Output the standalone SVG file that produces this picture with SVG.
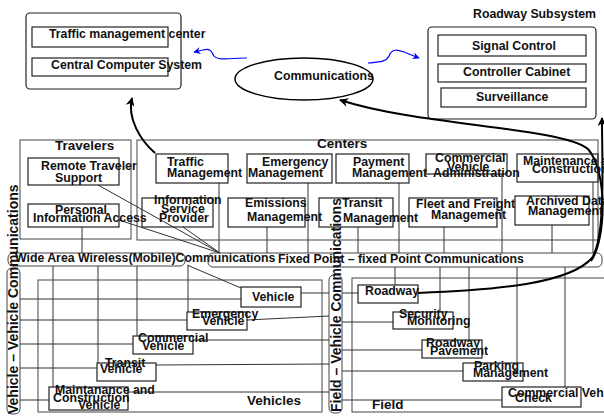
<svg xmlns="http://www.w3.org/2000/svg" width="604" height="417" viewBox="0 0 604 417">
<defs>
<style>
.t{font-family:"Liberation Sans",Arial,Helvetica,sans-serif;font-weight:bold;font-size:12.3px;fill:#111}
.h{font-size:13.5px}
.v{font-size:14px}
.bx{fill:none;stroke:#222;stroke-width:1.2}
.cb{fill:none;stroke:#444;stroke-width:1}
.ln{fill:none;stroke:#333;stroke-width:1}
.big{fill:none;stroke:#000;stroke-width:2}
.blue{fill:none;stroke:#0000ff;stroke-width:1.2}
</style>
<marker id="ab" viewBox="0 0 10 10" refX="9" refY="5" markerWidth="11" markerHeight="9" markerUnits="userSpaceOnUse" orient="auto"><path d="M0,0 L10,5 L0,10 L3,5 Z" fill="#000"/></marker>
<marker id="abl" viewBox="0 0 10 10" refX="9" refY="5" markerWidth="9" markerHeight="7" markerUnits="userSpaceOnUse" orient="auto"><path d="M0,0 L10,5 L0,10 L3,5 Z" fill="#0000ff"/></marker>
</defs>
<rect width="604" height="417" fill="#fff"/>

<!-- containers -->
<g id="tmc">
<rect class="bx" x="26" y="13" width="155" height="76" rx="4" stroke-width="1.5"/>
<rect class="bx" x="32" y="27" width="136" height="20"/>
<text class="t" x="49" y="38">Traffic management center</text>
<rect class="bx" x="32" y="58" width="136" height="18"/>
<text class="t" x="51" y="69">Central Computer System</text>
</g>
<g id="comm">
<ellipse cx="304" cy="79" rx="69" ry="21" fill="none" stroke="#000" stroke-width="1.5"/>
<text class="t" x="274" y="80">Communications</text>
</g>
<g id="roadway-subsystem">
<text class="t" x="473" y="18">Roadway Subsystem</text>
<rect class="bx" x="428" y="27" width="168" height="92" rx="4" stroke-width="1.5"/>
<rect class="bx" x="438" y="35" width="148" height="21"/>
<text class="t" x="472" y="50">Signal Control</text>
<rect class="bx" x="438" y="64" width="148" height="18"/>
<text class="t" x="463" y="76">Controller Cabinet</text>
<rect class="bx" x="441" y="88" width="145" height="19"/>
<text class="t" x="476" y="101">Surveillance</text>
</g>

<g id="travelers">
<rect class="cb" x="20" y="140" width="111" height="99"/>
<text class="t h" x="55" y="150">Travelers</text>
</g>
<g id="centers">
<rect class="cb" x="137" y="140" width="461" height="100"/>
<text class="t h" x="317" y="148">Centers</text>
</g>
<g id="vehicles">
<rect class="cb" x="38" y="280" width="284" height="132"/>
<text class="t h" x="247" y="405">Vehicles</text>
</g>
<g id="field">
<rect class="cb" x="352" y="278" width="256" height="134"/>
<text class="t h" x="372" y="409">Field</text>
</g>
<g id="wide-area">
<rect class="cb" x="8" y="253" width="177" height="13" rx="5"/>
<text class="t" x="15" y="262">Wide Area Wireless(Mobile)Communications</text>
</g>
<g id="fixed-point">
<rect class="cb" x="208" y="253" width="394" height="14" rx="5"/>
<text class="t" x="278" y="263">Fixed Point – fixed Point Communications</text>
</g>
<g id="v2v">
<rect class="cb" x="7" y="268" width="13" height="146" rx="5"/>
<text class="t v" transform="translate(18,414) rotate(-90)">Vehicle – Vehicle Communications</text>
</g>
<g id="f2v">
<rect class="cb" x="329" y="275" width="13" height="138" rx="5"/>
<text class="t v" transform="translate(341,412) rotate(-90)">Field – Vehicle Communications</text>
</g>

<!-- connectors -->
<g id="connectors">
<path class="ln" d="M82,227V253 M98,185L220,253 M119,220L220,253 M183,227L220,253"/>
<path class="ln" d="M219,183V253 M267,227V253 M308,183V253 M358,227V253 M399,183V253 M444,227V253 M502,174V253 M552,225V253 M593,182V253"/>
<path class="ln" d="M53,266V387 M98,266V363 M137,266V336 M188,266V312 M187,265L241,288"/>
<path class="ln" d="M20,299H241 M20,320H187 M20,344H133 M20,368H97 M20,400H49"/>
<path class="ln" d="M301,293H329 M247,320L329,316 M193,340H329 M156,365L329,364 M128,392H329"/>
<path class="ln" d="M342,293H358 M342,322H393 M342,350H422 M342,371H463 M342,400H502"/>
<path class="ln" d="M395,267V285 M440,267V312 M469,267V340 M517,267V363 M565,267V387"/>
<path class="big" d="M155,153 C140,140 127,118 132,98" marker-end="url(#ab)"/>
<path class="big" d="M591,261 C606,240 608,172 588,149 C560,127 420,126 340,100" marker-end="url(#ab)"/>
<path class="big" d="M418,293 C500,290 570,283 592,258 C606,236 602,165 602,118" marker-end="url(#ab)"/>
<path class="blue" d="M247,58 C232,58 218,61 214,56 C211,51 211,48 203,50 L194,52" marker-end="url(#abl)"/>
<path class="blue" d="M368,63 C380,62 386,62 389,56 C392,48 398,50 404,52 L419,58" marker-end="url(#abl)"/>
</g>

<!-- traveler nodes -->
<g id="remote-traveler">
<rect class="bx" x="28" y="158" width="91" height="27"/>
<text class="t" x="41" y="170">Remote Traveler</text>
<text class="t" x="55" y="182">Support</text>
</g>
<g id="personal-info">
<rect class="bx" x="28" y="204" width="91" height="23"/>
<text class="t" x="55" y="214">Personal</text>
<text class="t" x="33" y="222">Information Access</text>
</g>

<!-- center nodes -->
<g id="traffic-mgmt">
<rect class="bx" x="156" y="154" width="72" height="29"/>
<text class="t" x="167" y="166">Traffic</text>
<text class="t" x="167" y="177">Management</text>
</g>
<g id="emergency-mgmt">
<rect class="bx" x="247" y="154" width="85" height="29"/>
<text class="t" x="262" y="166">Emergency</text>
<text class="t" x="248" y="177">Management</text>
</g>
<g id="payment-mgmt">
<rect class="bx" x="336" y="154" width="73" height="29"/>
<text class="t" x="353" y="166">Payment</text>
<text class="t" x="352" y="177">Management</text>
</g>
<g id="cva">
<rect class="bx" x="426" y="154" width="81" height="20"/>
<text class="t" x="435" y="162">Commercial</text>
<text class="t" x="447" y="171">Vehicle</text>
<text class="t" x="433" y="177">Administration</text>
</g>
<g id="maint-const">
<rect class="bx" x="517" y="154" width="81" height="28"/>
<text class="t" x="523" y="165">Maintenance and</text>
<text class="t" x="532" y="173">Construction</text>
</g>
<g id="isp">
<rect class="bx" x="142" y="198" width="71" height="29"/>
<text class="t" x="154" y="204">Information</text>
<text class="t" x="161" y="213">Service</text>
<text class="t" x="159" y="222">Provider</text>
</g>
<g id="emissions">
<rect class="bx" x="228" y="198" width="77" height="29"/>
<text class="t" x="245" y="207">Emissions</text>
<text class="t" x="247" y="221">Management</text>
</g>
<g id="transit-mgmt">
<rect class="bx" x="319" y="198" width="74" height="29"/>
<text class="t" x="342" y="207">Transit</text>
<text class="t" x="343" y="222">Management</text>
</g>
<g id="fleet">
<rect class="bx" x="409" y="198" width="88" height="29"/>
<text class="t" x="416" y="208">Fleet and Freight</text>
<text class="t" x="431" y="219">Management</text>
</g>
<g id="archived">
<rect class="bx" x="515" y="196" width="74" height="29"/>
<text class="t" x="526" y="205">Archived Data</text>
<text class="t" x="528" y="215">Management</text>
</g>

<!-- vehicle nodes -->
<g id="vehicle">
<rect class="bx" x="241" y="287" width="60" height="20"/>
<text class="t" x="252" y="301">Vehicle</text>
</g>
<g id="emergency-vehicle">
<rect class="bx" x="187" y="312" width="60" height="18"/>
<text class="t" x="192" y="318">Emergency</text>
<text class="t" x="202" y="325">Vehicle</text>
</g>
<g id="commercial-vehicle">
<rect class="bx" x="133" y="336" width="60" height="18"/>
<text class="t" x="138" y="342">Commercial</text>
<text class="t" x="142" y="350">Vehicle</text>
</g>
<g id="transit-vehicle">
<rect class="bx" x="97" y="363" width="59" height="18"/>
<text class="t" x="105" y="367">Transit</text>
<text class="t" x="100" y="373">Vehicle</text>
</g>
<g id="maint-vehicle">
<rect class="bx" x="49" y="387" width="79" height="23"/>
<text class="t" x="55" y="394">Maintanance and</text>
<text class="t" x="53" y="402">Construction</text>
<text class="t" x="78" y="409">Vehicle</text>
</g>

<!-- field nodes -->
<g id="roadway">
<rect class="bx" x="358" y="285" width="60" height="18"/>
<text class="t" x="365" y="295">Roadway</text>
</g>
<g id="security">
<rect class="bx" x="393" y="312" width="60" height="17"/>
<text class="t" x="399" y="318">Security</text>
<text class="t" x="407" y="325">Monitoring</text>
</g>
<g id="pavement">
<rect class="bx" x="422" y="340" width="60" height="18"/>
<text class="t" x="426" y="347">Roadway</text>
<text class="t" x="430" y="355">Pavement</text>
</g>
<g id="parking">
<rect class="bx" x="463" y="363" width="60" height="18"/>
<text class="t" x="474" y="370">Parking</text>
<text class="t" x="473" y="377">Management</text>
</g>
<g id="cv-check">
<rect class="bx" x="502" y="387" width="79" height="20"/>
<text class="t" x="508" y="397">Commercial Vehicle</text>
<text class="t" x="515" y="402">Check</text>
</g>
</svg>
